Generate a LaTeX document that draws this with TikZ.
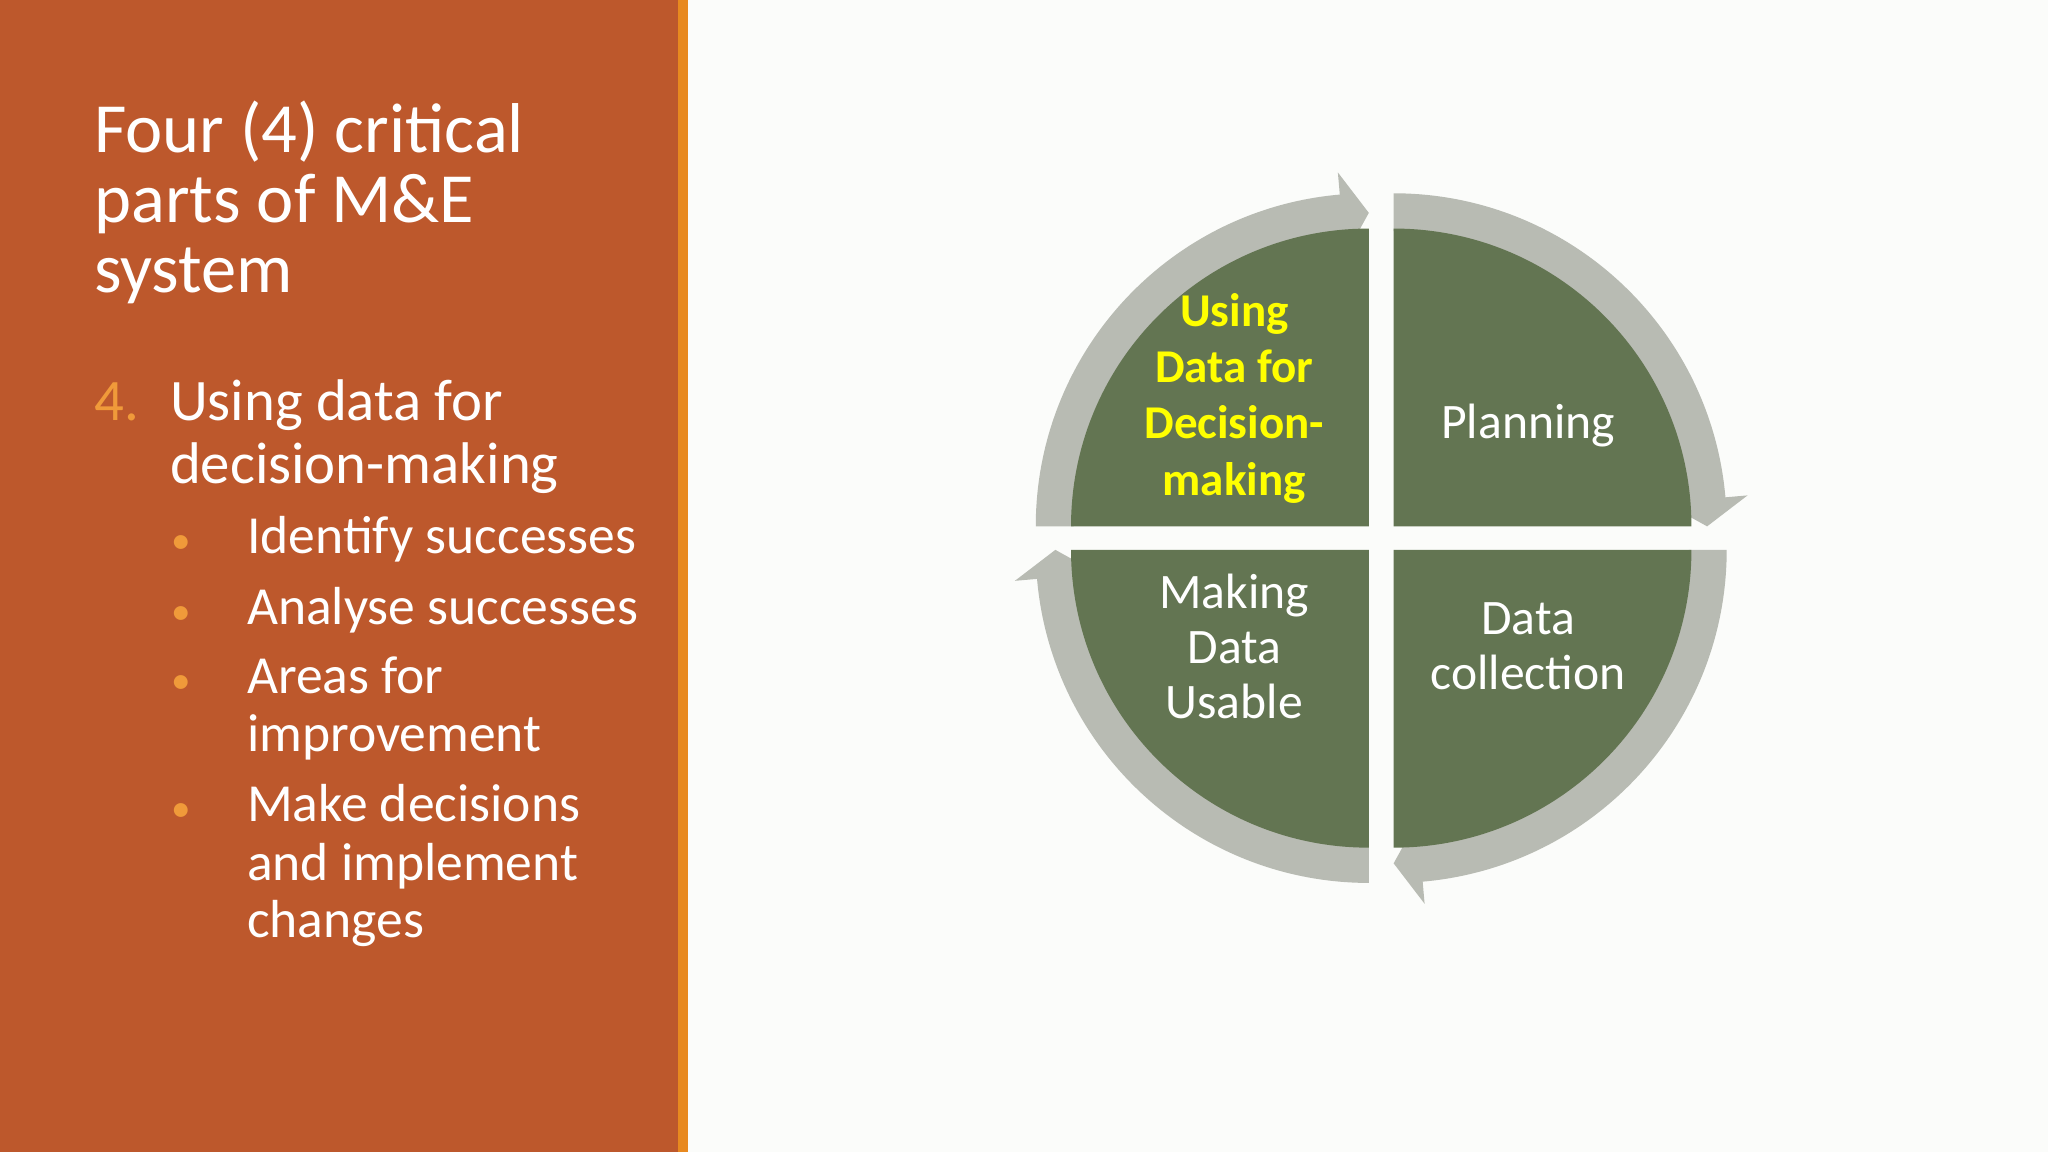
\documentclass[tikz,border=0pt]{standalone}
\usepackage{fontspec}
\setmainfont{Carlito}
\usetikzlibrary{calc}
\definecolor{panel}{HTML}{BD582C}
\definecolor{stripe}{HTML}{E8891F}
\definecolor{bul}{HTML}{F09A3A}
\definecolor{qgreen}{HTML}{637552}
\definecolor{ring}{HTML}{B8BBB3}
\definecolor{bg}{HTML}{FBFCFA}
\definecolor{hl}{HTML}{FFFF00}
\tikzset{
  ttl/.style={anchor=base west,inner sep=0,text=white,font=\fontsize{54}{54}\selectfont},
  lvl/.style={anchor=base west,inner sep=0,text=white,font=\fontsize{45}{48}\selectfont},
  sub/.style={anchor=base west,inner sep=0,text=white,font=\fontsize{41}{44}\selectfont},
  qtext/.style={inner sep=0,text=white,font=\fontsize{38}{42}\selectfont,align=center},
  quad/.style={fill=qgreen},
  band/.style={fill=ring}
}
\newcommand{\bandarrow}[2]{%
  \fill[band] ($(#1)+(#2:255pt)$) arc[start angle=#2,end angle=#2-85,radius=255pt]
    -- ($(#1)+(#2-85:272pt)$) -- ($(#1)+(#2-90:240pt)$) -- ($(#1)+(#2-85:208pt)$)
    -- ($(#1)+(#2-85:226pt)$) arc[start angle=#2-85,end angle=#2,radius=226pt] -- cycle;
  \fill[quad] (#1) -- ($(#1)+(#2:228pt)$) arc[start angle=#2,end angle=#2-90,radius=228pt] -- cycle;
}
\begin{document}
\begin{tikzpicture}[x=1pt,y=1pt]
\useasboundingbox (0,0) rectangle (1568,882);
\fill[bg] (0,0) rectangle (1568,882);
\fill[panel] (0,0) rectangle (519,882);
\fill[stripe] (519,0) rectangle (527,882);
\node[ttl] (t1) at (72,765) {Four (4) critical};
\node[ttl] (t2) at (72,712) {parts of M\&E};
\node[ttl] (t3) at (72,658) {system};
\node[lvl,text=bul] (n4) at (72,560) {4.};
\node[lvl] (l1) at (130,560) {Using data for};
\node[lvl] (l2) at (130,512) {decision-making};
\foreach \y in {458,404,351,253}{
  \node[sub,text=bul,font=\fontsize{30}{30}\selectfont] at (131,\y) {•};
}
\node[sub] (s1) at (189,458) {Identify successes};
\node[sub] (s2) at (189,404) {Analyse successes};
\node[sub] (s3) at (189,351) {Areas for};
\node[sub] (s3b) at (189,307) {improvement};
\node[sub] (s4) at (189,253) {Make decisions};
\node[sub] (s4b) at (189,208) {and implement};
\node[sub] (s4c) at (189,164) {changes};
\coordinate (TL) at (1048,479);
\coordinate (TR) at (1067,479);
\coordinate (BL) at (1048,461);
\coordinate (BR) at (1067,461);
\bandarrow{TL}{180}
\bandarrow{TR}{90}
\bandarrow{BR}{0}
\bandarrow{BL}{270}
\node[qtext,text=hl,font=\bfseries\fontsize{36}{43}\selectfont] (q1) at (945,577) {Using\\Data for\\Decision-\\making};
\node[qtext] (q2) at (1170,556) {Planning};
\node[qtext] (q3) at (1170,387) {Data\\collection};
\node[qtext] (q4) at (945,387) {Making\\Data\\Usable};
\end{tikzpicture}
\end{document}
